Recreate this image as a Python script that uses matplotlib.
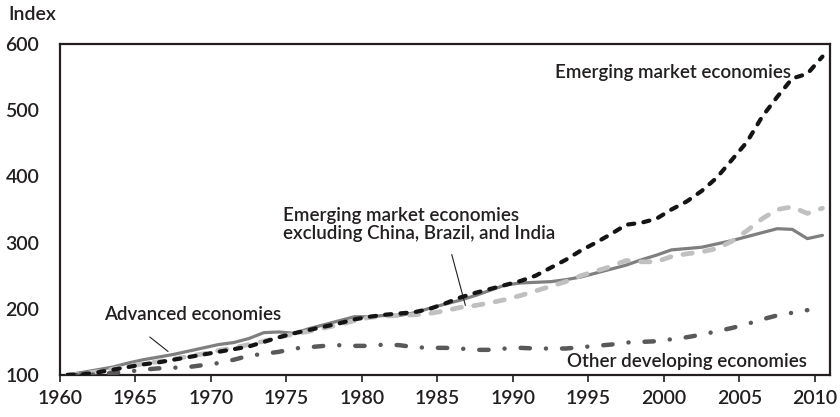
import numpy as np
import matplotlib
matplotlib.use("Agg")
import matplotlib.pyplot as plt

plt.rcParams['font.family'] = ['Lato', 'DejaVu Sans']
plt.rcParams['font.weight'] = 'semibold'

TEXT = '#231f20'

years = list(range(1960, 2011))
years_other = list(range(1960, 2010))

emerging = [100, 101, 104, 108, 112, 116, 119, 123, 127, 131,
            135, 139, 143, 150, 157, 163, 168, 173, 178, 184,
            188, 191, 193, 195, 200, 208, 217, 224, 230, 236,
            242, 250, 262, 274, 288, 300, 313, 327, 330, 336,
            350, 362, 378, 398, 425, 452, 490, 520, 548, 555, 581]

advanced = [100, 104, 108, 112, 118, 123, 127, 131, 136, 141,
            146, 149, 155, 164, 165, 163, 170, 176, 182, 188,
            188, 190, 190, 194, 201, 207, 213, 220, 228, 236,
            239, 240, 241, 244, 248, 254, 260, 266, 274, 281,
            289, 291, 293, 298, 303, 309, 315, 321, 320, 306, 311]

em_excl = [100, 102, 105, 109, 113, 117, 120, 124, 128, 132,
           137, 141, 146, 151, 157, 162, 166, 171, 176, 182,
           187, 189, 190, 191, 193, 197, 202, 205, 209, 214,
           220, 227, 234, 241, 250, 257, 264, 273, 271, 271,
           279, 283, 286, 291, 302, 318, 336, 350, 354, 344, 352]

other_dev = [100, 100, 101, 103, 105, 108, 110, 111, 112, 115,
             118, 123, 129, 132, 135, 140, 142, 144, 145, 144,
             144, 146, 145, 142, 141, 141, 140, 138, 138, 140,
             141, 140, 140, 140, 142, 144, 146, 149, 150, 151,
             154, 157, 161, 166, 171, 177, 184, 190, 194, 198]

# yearly values sit in the middle of each year slot
x = np.array(years) + 0.5
x_other = np.array(years_other) + 0.5

fig = plt.figure(figsize=(8.4, 4.17), dpi=100)
ax = fig.add_axes([60 / 840, 1 - 375 / 417, 770 / 840, 331 / 417])

ax.plot(x, advanced, color='#7f7f7f', lw=2.3, solid_capstyle='round', zorder=2)
ax.plot(x, em_excl, color='#c0c0c0', lw=3.4, linestyle=(0, (2.0, 2.6)),
        dash_capstyle='round', zorder=3)
ax.plot(x_other, other_dev, color='#595959', lw=3.2,
        linestyle=(0, (2.1, 3.6, 0.02, 3.6)), dash_capstyle='round', zorder=3)
ax.plot(x, emerging, color='#141414', lw=3.0, linestyle=(0, (1.5, 2.2)),
        dash_capstyle='round', zorder=4)

ax.set_xlim(1960, 2011)
ax.set_ylim(100, 600)
ax.set_xticks(range(1960, 2011, 5))
ax.set_yticks(range(100, 601, 100))

for s in ax.spines.values():
    s.set_linewidth(1.6)
    s.set_color(TEXT)

ax.tick_params(axis='x', direction='out', length=5, width=1.2, pad=6,
               labelsize=14, colors=TEXT)
ax.tick_params(axis='y', length=0, pad=15, labelsize=14, colors=TEXT)

fig.text(8 / 840, 1 - 15 / 417, 'Index', fontsize=14, color=TEXT, va='center', ha='left')

fs = 13.5
ax.text(2008.4, 557, 'Emerging market economies', ha='right', va='center',
        fontsize=fs, color=TEXT)
ax.text(1974.75, 327, 'Emerging market economies\nexcluding China, Brazil, and India',
        ha='left', va='center', fontsize=fs, color=TEXT, linespacing=1.05)
ax.text(1962.9, 191, 'Advanced economies', ha='left', va='center',
        fontsize=fs, color=TEXT)
ax.text(2009.5, 120, 'Other developing economies', ha='right', va='center',
        fontsize=fs, color=TEXT)

ax.annotate('', xy=(1967.3, 133), xytext=(1965.8, 160),
            arrowprops=dict(arrowstyle='-', color=TEXT, lw=0.8))
ax.annotate('', xy=(1986.9, 201), xytext=(1985.9, 286),
            arrowprops=dict(arrowstyle='-', color=TEXT, lw=0.8))

fig.savefig('out.png', dpi=100)
